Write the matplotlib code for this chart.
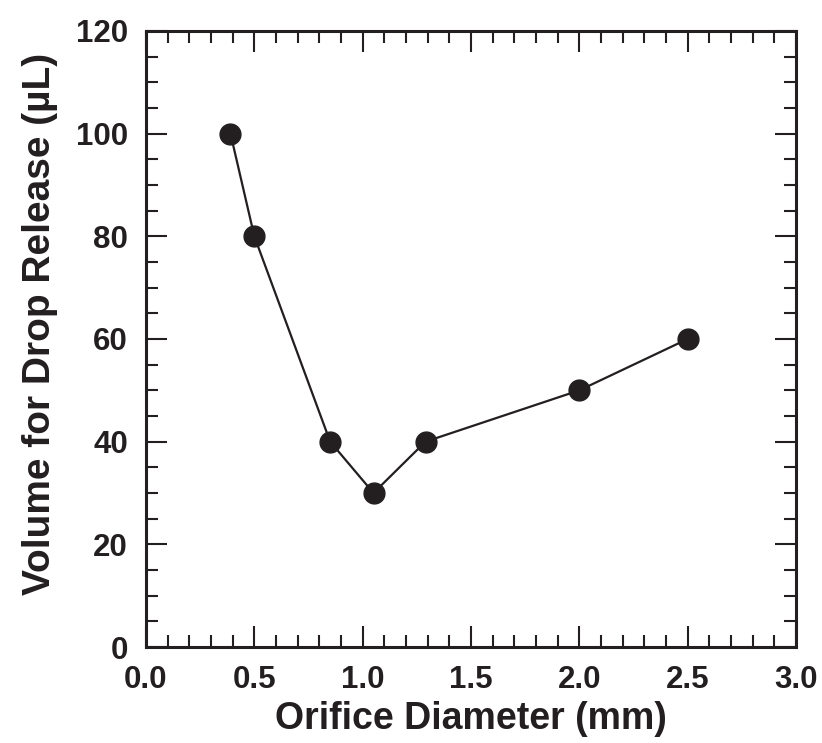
import numpy as np
import matplotlib
matplotlib.use("Agg")
import matplotlib.pyplot as plt
from matplotlib.ticker import MultipleLocator

plt.rcParams['font.family'] = ['Liberation Sans', 'DejaVu Sans']
plt.rcParams['font.weight'] = 'bold'

# data
orifice_mm = [0.39, 0.5, 0.85, 1.05, 1.29, 2.0, 2.5]
volume_ul = [100, 80, 40, 30, 40, 50, 60]

ink = '#231f20'

fig = plt.figure(figsize=(8.22, 7.43), dpi=100)
ax = fig.add_axes([0.1776, 0.1292, 0.7908, 0.8291])

ax.plot(orifice_mm, volume_ul, '-o', color=ink, lw=1.6, ms=15, mfc=ink, mec=ink)

ax.set_xlim(0, 3)
ax.set_ylim(0, 120)
ax.xaxis.set_major_locator(MultipleLocator(0.5))
ax.xaxis.set_minor_locator(MultipleLocator(0.1))
ax.yaxis.set_major_locator(MultipleLocator(20))
ax.yaxis.set_minor_locator(MultipleLocator(5))
ax.xaxis.set_major_formatter(plt.FormatStrFormatter('%.1f'))

ax.tick_params(which='both', direction='in', top=True, right=True, color=ink,
               width=1.5, labelsize=22.5, labelcolor=ink)
ax.tick_params(axis='x', pad=13)
ax.tick_params(axis='y', pad=13)
ax.tick_params(which='major', length=15)
ax.tick_params(which='minor', length=8.5)

for s in ax.spines.values():
    s.set_linewidth(2.2)
    s.set_color(ink)

ax.set_xlabel('Orifice Diameter (mm)', fontsize=27, fontweight='bold', color=ink, labelpad=4)
ax.set_ylabel('Volume for Drop Release (µL)', fontsize=28, fontweight='bold', color=ink)
ax.yaxis.set_label_coords(-0.135, 0.524)

fig.savefig('out.png', dpi=100)
